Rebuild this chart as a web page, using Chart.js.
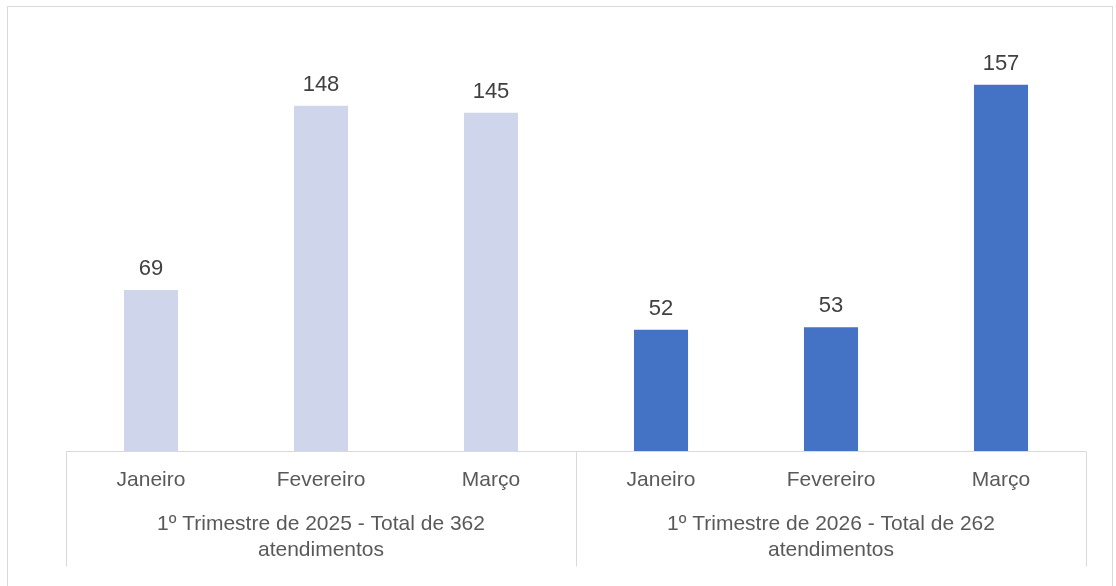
<!DOCTYPE html>
<html lang="pt">
<head>
  <meta charset="UTF-8" />
  <title>Atendimentos por trimestre</title>
  <style>
    html, body { margin: 0; padding: 0; background: #fff; }
    #wrap { position: relative; width: 1116px; height: 586px; }
  </style>
</head>
<body>
  <div id="wrap"><canvas id="chart" width="1116" height="586"></canvas></div>

  <script src="https://cdn.jsdelivr.net/npm/chart.js"></script>
  <script>
    // dados
    const months = ['Janeiro', 'Fevereiro', 'Março', 'Janeiro', 'Fevereiro', 'Março'];
    const values = [69, 148, 145, 52, 53, 157];
    const groups = [
      ['1º Trimestre de 2025 - Total de 362', 'atendimentos'],
      ['1º Trimestre de 2026 - Total de 262', 'atendimentos']
    ];
    const groupSize = 3;
    const barColors = ['#CFD5EA', '#CFD5EA', '#CFD5EA', '#4472C4', '#4472C4', '#4472C4'];

    const FONT = '"Liberation Sans", Arial, sans-serif';
    const lineColor = '#D9D9D9';

    // eixo em varios niveis + rotulos de dados
    const decor = {
      id: 'decor',
      beforeDraw(chart) {
        const c = chart.ctx;
        c.save();
        c.strokeStyle = lineColor;
        c.lineWidth = 1;
        c.strokeRect(7.5, 6.5, 1105, 600);
        c.restore();
      },
      afterDraw(chart) {
        const c = chart.ctx;
        const x = chart.scales.x;
        const area = chart.chartArea;
        const half = (x.getPixelForValue(1) - x.getPixelForValue(0)) / 2;
        const base = Math.round(area.bottom) + 0.5;
        const bottom = base + 115;

        c.save();
        c.strokeStyle = lineColor;
        c.lineWidth = 1;
        c.beginPath();
        c.moveTo(x.getPixelForValue(0) - half, base);
        c.lineTo(x.getPixelForValue(months.length - 1) + half, base);
        for (let i = 0; i <= months.length; i += groupSize) {
          const px = Math.round(x.getPixelForValue(i) - half) + 0.5;
          c.moveTo(px, base);
          c.lineTo(px, bottom);
        }
        c.stroke();

        c.font = '21px ' + FONT;
        c.textAlign = 'center';
        c.textBaseline = 'middle';
        c.fillStyle = '#595959';
        months.forEach((m, i) => c.fillText(m, x.getPixelForValue(i), base + 29));

        groups.forEach((lines, g) => {
          const first = x.getPixelForValue(g * groupSize);
          const last = x.getPixelForValue(g * groupSize + groupSize - 1);
          const cx = (first + last) / 2;
          lines.forEach((t, k) => c.fillText(t, cx, base + 73 + k * 26));
        });

        // valores acima das barras
        const meta = chart.getDatasetMeta(0);
        c.font = '22px ' + FONT;
        c.fillStyle = '#404040';
        c.textBaseline = 'alphabetic';
        meta.data.forEach((bar, i) => {
          c.fillText(String(values[i]), bar.x, bar.y - 15);
        });
        c.restore();
      }
    };

    new Chart(document.getElementById('chart'), {
      type: 'bar',
      data: {
        labels: months,
        datasets: [{
          data: values,
          backgroundColor: barColors,
          borderWidth: 0,
          categoryPercentage: 1,
          barPercentage: 0.318
        }]
      },
      options: {
        responsive: false,
        animation: false,
        layout: { padding: { left: 66, right: 30, top: 31, bottom: 135 } },
        scales: {
          x: { display: false },
          y: { display: false, min: 0, max: 180 }
        },
        plugins: {
          legend: { display: false },
          tooltip: { enabled: false }
        }
      },
      plugins: [decor]
    });
  </script>
</body>
</html>
